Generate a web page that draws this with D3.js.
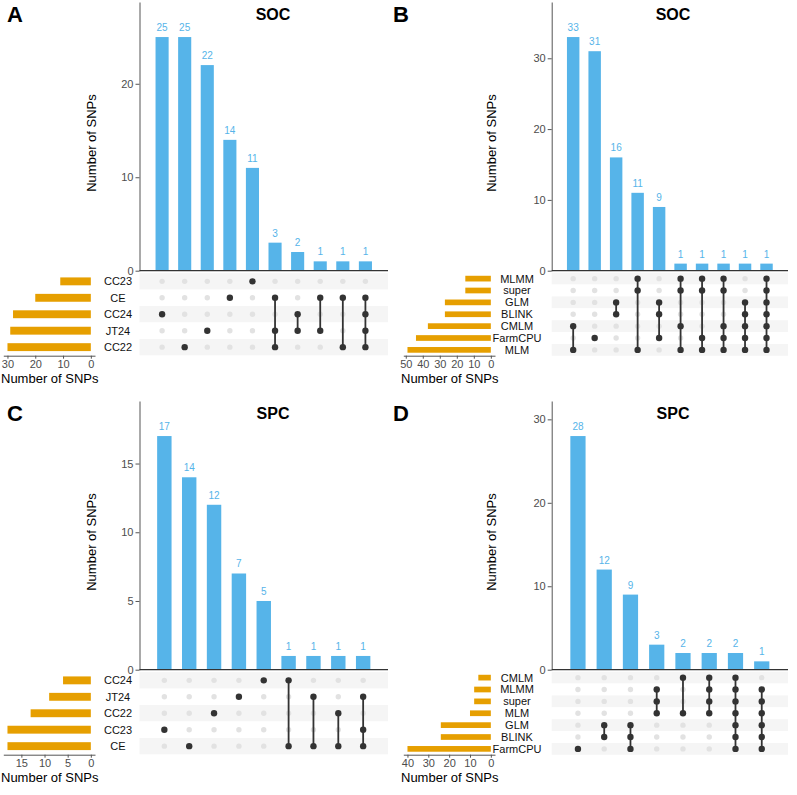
<!DOCTYPE html>
<html>
<head>
<meta charset="utf-8">
<script src="https://cdn.jsdelivr.net/npm/d3@7"></script>
<style>
body{margin:0;background:#fff;}
svg{font-family:"Liberation Sans",Arial,sans-serif;}
</style>
</head>
<body>
<svg id="chart" width="797" height="795"></svg>
<script>
// Panel A - SOC by environment
var setsA = ["CC23","CE","CC24","JT24","CC22"];
var setSizeA = [11,20,28,29,30];
var countsA = [25,25,22,14,11,3,2,1,1,1];
var membersA = [["CC24"],["CC22"],["JT24"],["CE"],["CC23"],["CE","JT24","CC22"],["CC24","JT24"],["CE","JT24"],["CE","CC22"],["CE","CC24","JT24","CC22"]];
var yTicksA = [0,10,20];
var sizeTicksA = [0,10,20,30];

// Panel B - SOC by model
var setsB = ["MLMM","super","GLM","BLINK","CMLM","FarmCPU","MLM"];
var setSizeB = [15,15,27,27,37,44,49];
var countsB = [33,31,16,11,9,1,1,1,1,1];
var membersB = [["CMLM","MLM"],["FarmCPU"],["GLM","BLINK"],["MLMM","super","MLM"],["GLM","BLINK","FarmCPU"],
  ["MLMM","super","CMLM","MLM"],["MLMM","super","FarmCPU","MLM"],["MLMM","super","CMLM","FarmCPU","MLM"],
  ["GLM","BLINK","CMLM","FarmCPU","MLM"],["MLMM","super","GLM","BLINK","CMLM","FarmCPU","MLM"]];
var yTicksB = [0,10,20,30];
var sizeTicksB = [0,10,20,30,40,50];

// Panel C - SPC by environment
var setsC = ["CC24","JT24","CC22","CC23","CE"];
var setSizeC = [6,9,13,18,18];
var countsC = [17,14,12,7,5,1,1,1,1];
var membersC = [["CC23"],["CE"],["CC22"],["JT24"],["CC24"],["CC24","CE"],["JT24","CE"],["CC22","CE"],["JT24","CC23","CE"]];
var yTicksC = [0,5,10,15];
var sizeTicksC = [0,5,10,15];

// Panel D - SPC by model
var setsD = ["CMLM","MLMM","super","MLM","GLM","BLINK","FarmCPU"];
var setSizeD = [6,8,8,10,24,24,40];
var countsD = [28,12,9,3,2,2,2,1];
var membersD = [["FarmCPU"],["GLM","BLINK"],["GLM","BLINK","FarmCPU"],["MLMM","super","MLM"],["CMLM","MLM"],
  ["CMLM","MLMM","super","MLM"],["CMLM","MLMM","super","MLM","GLM","BLINK","FarmCPU"],
  ["MLMM","super","MLM","GLM","BLINK","FarmCPU"]];
var yTicksD = [0,10,20,30];
var sizeTicksD = [0,10,20,30,40];

var blue = "#56B4E9", orange = "#E69F00";
var svg = d3.select("#chart");

var styleAxis = function(ax){
  ax.select(".domain").attr("stroke","#555");
  ax.selectAll(".tick line").attr("stroke","#555");
  ax.selectAll(".tick text").attr("fill","#4d4d4d").style("font-size","11px");
};

//draws one upset panel
var drawPanel = function(p){
  var g = svg.append("g").attr("transform","translate("+p.dx+","+p.dy+")");
  var base = 270.7, right = 388;
  var ids = p.counts.map(function(d,i){return i;});
  var x = d3.scalePoint().domain(ids).range([p.x0, right]).padding(1);
  var bw = x.step()*0.58;
  var y = d3.scaleLinear().domain([0, d3.max(p.counts)*1.15]).range([base, 2]);
  var rows = d3.scaleBand().domain(p.sets).range([271.5, 357]).paddingOuter(0.1);
  var rc = function(s){ return rows(s)+rows.bandwidth()/2; };

  // panel letter + title
  g.append("text").attr("x",p.letterX).attr("y",22).text(p.letter)
    .style("font-size","22px").style("font-weight","bold");
  g.append("text").attr("x",273).attr("y",20).attr("text-anchor","middle").text(p.title)
    .style("font-size","16px").style("font-weight","bold");

  // stripes behind matrix
  g.selectAll("rect.stripe").data(p.sets).enter().append("rect")
    .attr("class","stripe")
    .attr("x",p.x0).attr("width",right-p.x0)
    .attr("y",function(d){return rows(d);}).attr("height",rows.step())
    .attr("fill",function(d,i){return i%2==0 ? "#f5f5f5" : "#ffffff";});

  // intersection bars
  g.selectAll("rect.bar").data(p.counts).enter().append("rect")
    .attr("class","bar")
    .attr("x",function(d,i){return x(i)-bw/2;})
    .attr("width",bw)
    .attr("y",function(d){return y(d);})
    .attr("height",function(d){return base-y(d);})
    .attr("fill",blue);
  g.selectAll("text.cnt").data(p.counts).enter().append("text")
    .attr("class","cnt")
    .attr("x",function(d,i){return x(i);})
    .attr("y",function(d){return y(d)-6;})
    .attr("text-anchor","middle")
    .attr("fill",blue).style("font-size","10px")
    .text(function(d){return d;});

  var ay = g.append("g").attr("transform","translate("+p.x0+",0)")
    .call(d3.axisLeft(y).tickValues(p.yTicks).tickSize(4).tickSizeOuter(0).tickPadding(2));
  styleAxis(ay);
  g.append("line").attr("x1",p.x0).attr("x2",right).attr("y1",base).attr("y2",base)
    .attr("stroke","#333").attr("stroke-width",1.2);
  g.append("text").attr("transform","translate(96,143) rotate(-90)")
    .attr("text-anchor","middle").style("font-size","13px").text("Number of SNPs");

  // matrix
  var cols = g.selectAll("g.col").data(p.members).enter().append("g").attr("class","col");
  cols.each(function(m,i){
    var c = d3.select(this);
    p.sets.forEach(function(s){
      if (m.indexOf(s)<0){
        c.append("circle").attr("cx",x(i)).attr("cy",rc(s)).attr("r",2.7).attr("fill","#e2e2e2");
      }
    });
    var ys = m.map(rc);
    c.append("line").attr("x1",x(i)).attr("x2",x(i))
      .attr("y1",d3.min(ys)).attr("y2",d3.max(ys))
      .attr("stroke","#333").attr("stroke-width",1.8);
    m.forEach(function(s){
      c.append("circle").attr("cx",x(i)).attr("cy",rc(s)).attr("r",3.2).attr("fill","#333");
    });
  });

  g.selectAll("text.setname").data(p.sets).enter().append("text")
    .attr("class","setname")
    .attr("x",p.labelX).attr("y",function(d){return rc(d);})
    .attr("dy","0.36em").attr("text-anchor","middle")
    .style("font-size","11px").attr("fill","#111")
    .text(function(d){return d;});

  // set size bars
  var maxS = d3.max(p.sizes);
  var xs = d3.scaleLinear().domain([maxS*1.05, -maxS*0.05]).range([3.3, 95]);
  var bh = rows.step()*0.48;
  g.selectAll("rect.size").data(p.sizes).enter().append("rect")
    .attr("class","size")
    .attr("x",function(d){return xs(d);})
    .attr("width",function(d){return xs(0)-xs(d);})
    .attr("y",function(d,i){return rc(p.sets[i])-bh/2;})
    .attr("height",bh)
    .attr("fill",orange);
  var ax = g.append("g").attr("transform","translate(0,355.7)")
    .call(d3.axisBottom(xs).tickValues(p.sizeTicks).tickSize(3).tickSizeOuter(0).tickPadding(2));
  styleAxis(ax);
  g.append("text").attr("x",1).attr("y",383).style("font-size","13px").text("Number of SNPs");
};

var panels = [
  {letter:"A",title:"SOC",dx:0,dy:0,x0:139.5,labelX:118,letterX:7,sets:setsA,sizes:setSizeA,counts:countsA,members:membersA,yTicks:yTicksA,sizeTicks:sizeTicksA},
  {letter:"B",title:"SOC",dx:400,dy:0,x0:151.7,labelX:117,letterX:-7,sets:setsB,sizes:setSizeB,counts:countsB,members:membersB,yTicks:yTicksB,sizeTicks:sizeTicksB},
  {letter:"C",title:"SPC",dx:0,dy:399,x0:139.5,labelX:118,letterX:7,sets:setsC,sizes:setSizeC,counts:countsC,members:membersC,yTicks:yTicksC,sizeTicks:sizeTicksC},
  {letter:"D",title:"SPC",dx:400,dy:399,x0:151.7,labelX:117,letterX:-7,sets:setsD,sizes:setSizeD,counts:countsD,members:membersD,yTicks:yTicksD,sizeTicks:sizeTicksD}
];
panels.forEach(drawPanel);
</script>
</body>
</html>
